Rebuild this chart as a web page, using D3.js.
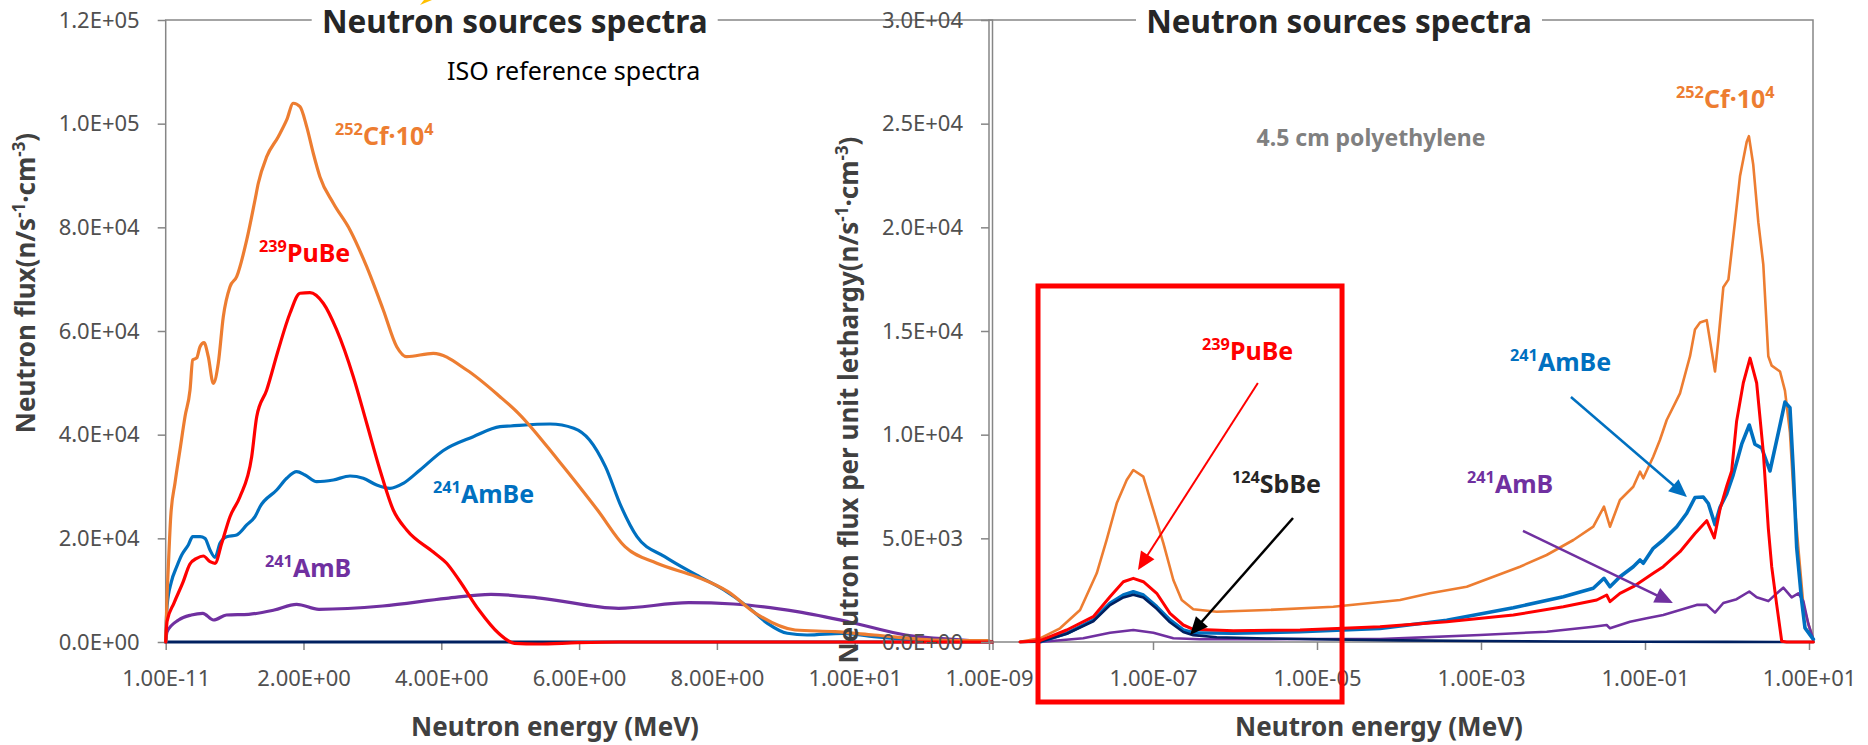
<!DOCTYPE html>
<html>
<head>
<meta charset="utf-8">
<script src="https://cdn.jsdelivr.net/npm/d3@7"></script>
<style>
  body { margin: 0; background: #fff; }
  svg { display: block; }
</style>
</head>
<body>
<svg id="chart"></svg>
<script>
// ---------- data: left panel, ISO reference spectra (E in MeV, flux) ----------
const cfIso = [[0,0],[0.02,9000],[0.038,14528],[0.073,24175],[0.135,30677],[0.207,37044],[0.28,43469],[0.353,48620],[0.392,54408],[0.45,54794],[0.498,56975],[0.556,57746],[0.618,55045],[0.691,49913],[0.763,53772],[0.836,62763],[0.933,68551],[1.03,70480],[1.176,77561],[1.296,85279],[1.344,88501],[1.466,93633],[1.634,97492],[1.756,100714],[1.852,103936],[1.949,103280],[2.046,99421],[2.142,94289],[2.238,89775],[2.433,84642],[2.675,79491],[2.917,72410],[3.158,64055],[3.353,56975],[3.498,55045],[3.884,55701],[4.369,52479],[4.852,47328],[5.119,44125],[5.694,35115],[6.267,25468],[6.666,18387],[7.128,15184],[7.701,12599],[8.161,9705],[8.562,5537],[9.136,2315],[9.71,1987],[10.28,1350],[11.15,386],[11.95,250]];
const amBeIso = [[0,0],[0.02,7000],[0.08,11500],[0.16,14528],[0.232,16786],[0.328,18715],[0.392,20316],[0.498,20316],[0.57,20008],[0.643,17750],[0.716,16342],[0.788,19043],[0.885,20316],[1.03,20644],[1.176,22574],[1.296,24175],[1.369,26104],[1.611,29327],[1.756,31584],[1.901,32857],[2.022,32221],[2.192,30928],[2.433,31256],[2.675,32028],[2.868,31584],[3.062,30291],[3.255,29655],[3.448,30619],[3.691,33185],[4.03,36950],[4.464,39610],[4.852,41540],[5.004,41675],[5.578,42061],[5.923,41231],[6.152,38973],[6.382,33822],[6.611,26104],[6.84,20316],[7.242,16458],[7.701,12927],[8.103,10033],[8.447,6811],[8.734,3608],[9.022,1679],[9.308,1351],[9.824,1679],[10.28,1023],[11.15,251],[11.95,100]];
const puBeIso = [[0,0],[0.02,4000],[0.12,7500],[0.25,11500],[0.35,15000],[0.45,16149],[0.546,16593],[0.643,15493],[0.716,15184],[0.813,19043],[0.933,24175],[1.078,28034],[1.248,35752],[1.321,43469],[1.466,48620],[1.634,56338],[1.804,63419],[1.949,67278],[2.094,67394],[2.287,65348],[2.482,60197],[2.723,51186],[2.917,42196],[3.11,33185],[3.303,25468],[3.498,21609],[3.884,17365],[4.078,15184],[4.257,11962],[4.546,6174],[4.832,1679],[5.061,-250],[5.403,-386],[5.98,-135],[6.59,0],[12,0]];
const amBIso = [[0,0],[0.02,1987],[0.187,4245],[0.372,5209],[0.538,5537],[0.695,4245],[0.881,5209],[1.205,5344],[1.575,6174],[1.9,7274],[2.224,6309],[3.149,6946],[4.074,8431],[4.721,9203],[5.462,8431],[6.573,6502],[7.592,7582],[8.24,7332],[9.166,5846],[9.906,3917],[10.74,1350],[11.48,444],[11.94,58]];
const sbBeIso = [[0,0],[12,0]];

// ---------- data: right panel, behind 4.5 cm polyethylene (E in MeV, flux per lethargy) ----------
const cfPoly = [[2.39e-9,14],[4.19e-9,178],[7.35e-9,661],[1.29e-8,1543],[2.06e-8,3313],[2.72e-8,4920],[3.61e-8,6690],[4.78e-8,7814],[5.75e-8,8296],[7.62e-8,7973],[1.01e-7,6367],[1.34e-7,4761],[1.77e-7,2990],[2.24e-7,2026],[3.10e-7,1577],[5.98e-7,1461],[2.44e-6,1543],[1.58e-5,1703],[1.03e-4,2026],[2.39e-4,2349],[6.70e-4,2667],[9.73e-4,2908],[2.99e-3,3632],[6.32e-3,4196],[1.34e-2,4920],[2.34e-2,5561],[3.16e-2,6526],[3.74e-2,5561],[4.95e-2,6849],[7.19e-2,7490],[8.69e-2,8214],[9.53e-2,7896],[0.126,8937],[0.152,9743],[0.184,10708],[0.267,11995],[0.354,13785],[0.407,15077],[0.469,15410],[0.566,15521],[0.621,14523],[0.714,13047],[0.783,14523],[0.902,17108],[1.04,17479],[1.25,20248],[1.44,22462],[1.74,24125],[1.85,24400],[2.09,23016],[2.41,20248],[2.77,18217],[3.19,13785],[3.51,13327],[4.43,13047],[5.09,12126],[5.86,10095],[6.44,7327],[7.41,4558],[8.53,1790],[9.82,868],[11.3,100]];
const amBePoly = [[4.19e-9,14],[8.87e-9,420],[1.87e-8,1061],[2.99e-8,1867],[4.35e-8,2267],[5.75e-8,2426],[7.62e-8,2267],[1.11e-7,1703],[1.61e-7,1061],[2.34e-7,579],[3.10e-7,449],[9.53e-7,420],[6.21e-6,497],[5.86e-5,650],[3.82e-4,1050],[2.48e-3,1650],[1.01e-2,2185],[2.34e-2,2590],[3.16e-2,3072],[3.74e-2,2667],[4.95e-2,3150],[7.19e-2,3632],[8.69e-2,3955],[9.53e-2,3796],[0.126,4519],[0.167,4920],[0.244,5561],[0.323,6208],[0.407,6970],[0.514,6994],[0.592,6680],[0.714,5662],[0.822,6497],[0.991,7138],[1.19,8064],[1.51,9540],[1.87,10466],[2.19,9540],[2.65,9357],[3.34,8248],[4.23,10095],[5.09,11571],[5.86,11296],[6.44,8248],[7.08,4558],[8.15,1973],[8.93,680],[11.3,125]];
const puBePoly = [[2.39e-9,0],[4.19e-9,63],[8.87e-9,579],[1.87e-8,1220],[2.99e-8,2185],[4.35e-8,2908],[5.75e-8,3072],[7.62e-8,2908],[1.11e-7,2349],[1.61e-7,1384],[2.34e-7,820],[3.10e-7,613],[9.53e-7,545],[6.21e-6,579],[5.86e-5,738],[3.82e-4,979],[2.48e-3,1302],[1.01e-2,1703],[2.58e-2,2026],[3.41e-2,2267],[3.74e-2,1944],[4.95e-2,2349],[7.19e-2,2667],[9.53e-2,2990],[0.126,3314],[0.167,3632],[0.267,4355],[0.407,5233],[0.566,5851],[0.700,5021],[0.822,6405],[0.991,7510],[1.14,8248],[1.31,10650],[1.58,12492],[1.91,13693],[2.30,12492],[2.77,9169],[3.19,5479],[3.51,3632],[4.04,1790],[4.65,34],[5.35,0],[11.3,0]];
const amBPoly = [[4.19e-9,0],[1.41e-8,178],[2.99e-8,449],[5.75e-8,579],[1.01e-7,449],[1.77e-7,178],[3.74e-7,130],[6.21e-6,145],[5.86e-5,140],[9.73e-4,338],[6.32e-3,497],[2.34e-2,738],[3.41e-2,820],[3.74e-2,661],[6.56e-2,979],[0.105,1143],[0.167,1302],[0.267,1543],[0.427,1790],[0.566,1790],[0.714,1418],[0.902,1881],[1.31,2064],[1.87,2436],[2.30,2156],[3.19,1973],[4.04,2344],[4.86,2619],[6.15,2156],[7.41,2344],[8.53,1973],[9.82,868],[11.3,125]];
const sbBePoly = [[2.39e-9,0],[4.19e-9,14],[8.87e-9,400],[1.87e-8,1000],[2.99e-8,1780],[4.35e-8,2150],[5.75e-8,2280],[7.62e-8,2150],[1.11e-7,1600],[1.61e-7,950],[2.34e-7,480],[3.10e-7,330],[5.98e-7,230],[2.44e-6,170],[1.58e-5,120],[1.03e-4,80],[9.73e-4,50],[1.01e-2,25],[9.53e-2,10],[0.991,5],[11.3,0]];

// ---------- ticks ----------
const isoXTicks = [0, 2, 4, 6, 8, 10, 12];
const isoXLabels = ["1.00E-11", "2.00E+00", "4.00E+00", "6.00E+00", "8.00E+00", "1.00E+01", ""];
const isoYTicks = [0, 2e4, 4e4, 6e4, 8e4, 1e5, 1.2e5];
const isoYLabels = ["0.0E+00", "2.0E+04", "4.0E+04", "6.0E+04", "8.0E+04", "1.0E+05", "1.2E+05"];
const polyXTicks = [1e-9, 1e-7, 1e-5, 1e-3, 1e-1, 1e1];
const polyXLabels = ["1.00E-09", "1.00E-07", "1.00E-05", "1.00E-03", "1.00E-01", "1.00E+01"];
const polyYTicks = [0, 5e3, 1e4, 1.5e4, 2e4, 2.5e4, 3e4];
const polyYLabels = ["0.0E+00", "5.0E+03", "1.0E+04", "1.5E+04", "2.0E+04", "2.5E+04", "3.0E+04"];

const C = { cf: "#ED7D31", pu: "#FF0000", amBe: "#0070C0", amB: "#7030A0", sb: "#002060" };
const FONT = '"Noto Sans", sans-serif';
const AXIS = "#868686";

const svg = d3.select("#chart").attr("width", 1868).attr("height", 745)
  .style("font-family", FONT);

// scales
const xIso = d3.scaleLinear().domain([0, 12]).range([165.7, 992.5]);
const yIso = d3.scaleLinear().domain([0, 1.2e5]).range([642, 20]);
const xPoly = d3.scaleLog().domain([1e-9, 10]).range([989, 1809]);
const yPoly = d3.scaleLinear().domain([0, 3e4]).range([642, 20]);

function frame(x0, x1, y0, y1) {
  svg.append("rect").attr("x", x0).attr("y", y1).attr("width", x1 - x0).attr("height", y0 - y1)
    .attr("fill", "none").attr("stroke", AXIS).attr("stroke-width", 1.5);
}

function styleAxis(g, size) {
  g.attr("font-family", FONT).attr("font-size", size);
  g.select(".domain").remove();
  g.selectAll(".tick line").attr("stroke", AXIS).attr("stroke-width", 1.5);
  g.selectAll(".tick text").attr("fill", "#505050");
}

function drawAxes(x, y, xt, xl, yt, yl) {
  const gx = svg.append("g").attr("transform", `translate(0,${y.range()[0]})`)
    .call(d3.axisBottom(x).tickValues(xt).tickFormat((d, i) => xl[i])
      .tickSize(8).tickSizeOuter(0).tickPadding(20));
  styleAxis(gx, 22);
  const gy = svg.append("g").attr("transform", `translate(${x.range()[0]},0)`)
    .call(d3.axisLeft(y).tickValues(yt).tickFormat((d, i) => yl[i])
      .tickSize(8).tickSizeOuter(0).tickPadding(18));
  styleAxis(gy, 22);
}

function drawLine(data, x, y, color, w, curve) {
  const line = d3.line().x(d => x(d[0])).y(d => y(d[1])).curve(curve || d3.curveMonotoneX);
  svg.append("path").datum(data).attr("d", line).attr("fill", "none")
    .attr("stroke", color).attr("stroke-width", w)
    .attr("stroke-linejoin", "round").attr("stroke-linecap", "round");
}

// label with superscript pieces: parts = [[text, isSup], ...]
function richLabel(px, py, parts, color, size, anchor) {
  const t = svg.append("text").attr("x", px).attr("y", py)
    .attr("fill", color).attr("font-size", size).attr("font-weight", "bold")
    .attr("text-anchor", anchor || "start");
  let up = false;
  const shift = size * 0.4;
  parts.forEach(([s, sup]) => {
    const ts = t.append("tspan").text(s);
    if (sup) {
      ts.attr("font-size", size * 0.65);
      if (!up) ts.attr("dy", -shift);
      up = true;
    } else if (up) {
      ts.attr("dy", shift);
      up = false;
    }
  });
  return t;
}

function arrow(p0, p1, x, y, color, w) {
  const x1 = x(p0[0]), y1 = y(p0[1]), x2 = x(p1[0]), y2 = y(p1[1]);
  const len = Math.hypot(x2 - x1, y2 - y1), ux = (x2 - x1) / len, uy = (y2 - y1) / len;
  const L = 18, hw = 8;
  const bx = x2 - ux * L, by = y2 - uy * L;
  svg.append("line").attr("x1", x1).attr("y1", y1).attr("x2", bx + ux * 2).attr("y2", by + uy * 2)
    .attr("stroke", color).attr("stroke-width", w);
  svg.append("polygon")
    .attr("points", [[x2, y2], [bx - uy * hw, by + ux * hw], [bx + uy * hw, by - ux * hw]].join(" "))
    .attr("fill", color);
}

function title(cx, text) {
  svg.append("rect").attr("x", cx - 203).attr("y", 3).attr("width", 406).attr("height", 34).attr("fill", "#fff");
  svg.append("text").attr("x", cx).attr("y", 32.5).attr("text-anchor", "middle")
    .attr("font-size", 31.5).attr("font-weight", "bold").attr("fill", "#262626").text(text);
}

function axisTitle(px, py, parts, rotate) {
  const t = richLabel(px, py, parts, "#404040", 26, "middle");
  if (rotate) t.attr("x", 0).attr("y", 0).attr("transform", `translate(${px},${py}) rotate(-90)`);
}

// ================= left panel =================
frame(165.7, 992.5, 642, 20);
drawAxes(xIso, yIso, isoXTicks, isoXLabels, isoYTicks, isoYLabels);

drawLine(sbBeIso, xIso, yIso, C.sb, 3.2);
drawLine(amBIso, xIso, yIso, C.amB, 3.2);
drawLine(amBeIso, xIso, yIso, C.amBe, 3.2);
drawLine(cfIso, xIso, yIso, C.cf, 3.2);
drawLine(puBeIso, xIso, yIso, C.pu, 3.2);

richLabel(xIso(2.457), yIso(95890), [["252", true], ["Cf·10", false], ["4", true]], C.cf, 25);
richLabel(xIso(1.354), yIso(73317), [["239", true], ["PuBe", false]], C.pu, 25);
richLabel(xIso(3.88), yIso(26818), [["241", true], ["AmBe", false]], C.amBe, 25);
richLabel(xIso(1.441), yIso(12541), [["241", true], ["AmB", false]], C.amB, 25);
svg.append("text").attr("x", xIso(4.083)).attr("y", yIso(108431))
  .attr("font-size", 25).attr("fill", "#000").text("ISO reference spectra");

title(514.7, "Neutron sources spectra");
axisTitle(555, 736, [["Neutron energy (MeV)", false]]);
axisTitle(35, 283, [["Neutron flux(n/s", false], ["-1", true], ["·cm", false], ["-3", true], [")", false]], true);

// stray yellow mark at the top edge
svg.append("polygon").attr("points", "420,5 424,0 432,0").attr("fill", "#FFC000");

// ================= right panel =================
frame(989, 1813, 642, 20);
drawAxes(xPoly, yPoly, polyXTicks, polyXLabels, polyYTicks, polyYLabels);

drawLine(cfPoly, xPoly, yPoly, C.cf, 2.6, d3.curveLinear);
drawLine(amBPoly, xPoly, yPoly, C.amB, 2.6, d3.curveLinear);
drawLine(amBePoly, xPoly, yPoly, C.amBe, 3.6, d3.curveLinear);
drawLine(sbBePoly, xPoly, yPoly, C.sb, 2.6, d3.curveLinear);
drawLine(puBePoly, xPoly, yPoly, C.pu, 3, d3.curveLinear);

svg.append("text").attr("x", xPoly(4.56e-5)).attr("y", yPoly(23923)).attr("text-anchor", "middle")
  .attr("font-size", 23).attr("font-weight", "bold").attr("fill", "#808080").text("4.5 cm polyethylene");
richLabel(xPoly(0.239), yPoly(25756), [["252", true], ["Cf·10", false], ["4", true]], C.cf, 25);
richLabel(xPoly(3.96e-7), yPoly(13601), [["239", true], ["PuBe", false]], C.pu, 25);
richLabel(xPoly(9.18e-7), yPoly(7187), [["124", true], ["SbBe", false]], "#262626", 25);
richLabel(xPoly(2.26e-3), yPoly(13071), [["241", true], ["AmBe", false]], C.amBe, 25);
richLabel(xPoly(6.75e-4), yPoly(7187), [["241", true], ["AmB", false]], C.amB, 25);

arrow([1.9e-6, 12492], [6.56e-8, 3473], xPoly, yPoly, C.pu, 2);
arrow([5.1e-6, 5981], [2.83e-7, 338], xPoly, yPoly, "#000", 2.5);
arrow([1.25e-2, 11817], [0.325, 6994], xPoly, yPoly, C.amBe, 2.5);
arrow([3.25e-3, 5354], [0.219, 1881], xPoly, yPoly, C.amB, 2.5);

// highlight box around the thermal region
svg.append("rect")
  .attr("x", xPoly(3.96e-9)).attr("y", yPoly(17171))
  .attr("width", xPoly(2.02e-5) - xPoly(3.96e-9)).attr("height", yPoly(-2894) - yPoly(17171))
  .attr("fill", "none").attr("stroke", "#FF0000").attr("stroke-width", 5);

title(1339, "Neutron sources spectra");
axisTitle(1379, 736, [["Neutron energy (MeV)", false]]);
axisTitle(858, 400, [["Neutron flux per unit lethargy(n/s", false], ["-1", true], ["·cm", false], ["-3", true], [")", false]], true);
</script>
</body>
</html>
